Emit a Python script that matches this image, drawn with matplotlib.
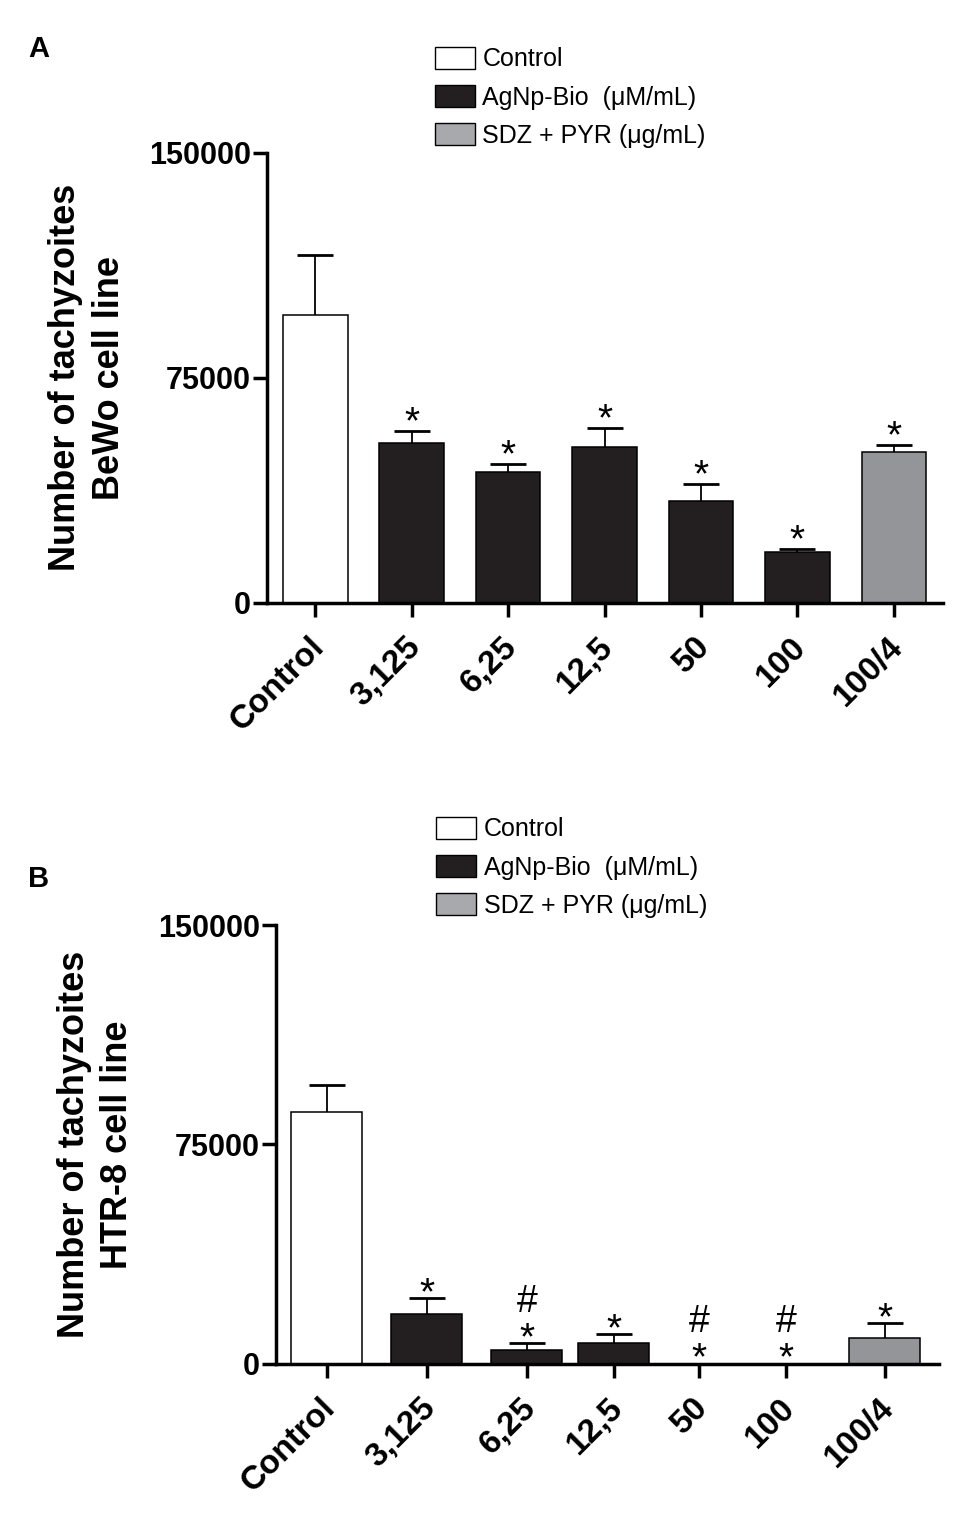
import numpy as np
import matplotlib
matplotlib.use("Agg")
import matplotlib.pyplot as plt
from matplotlib.patches import Patch
from matplotlib.transforms import ScaledTranslation

plt.rcParams['font.family'] = ['Liberation Sans', 'DejaVu Sans']

# Données
categories = ["Control", "3,125", "6,25", "12,5", "50", "100", "100/4"]

bewo_moyennes = [96000, 53100, 43500, 51800, 34000, 16800, 50100]
bewo_erreurs = [20100, 4200, 2700, 6300, 5400, 1000, 2300]
bewo_etoiles = [False, True, True, True, True, True, True]
bewo_dieses = [False, False, False, False, False, False, False]

htr8_moyennes = [86000, 16800, 4700, 7100, 0, 0, 8700]
htr8_erreurs = [9300, 5500, 2400, 2900, 0, 0, 5000]
htr8_etoiles = [False, True, True, True, True, True, True]
htr8_dieses = [False, False, True, False, True, True, False]

legende_labels = ["Control", "AgNp-Bio  (\u03bcM/mL)", "SDZ + PYR (\u03bcg/mL)"]

# Mise en page
couleur_noire = '#231f20'
couleur_grise = '#939598'
couleurs_barres = ['white'] + [couleur_noire] * 5 + [couleur_grise]
couleurs_legende = ['white', couleur_noire, '#a7a9ac']

pos_A = np.arange(7)
pos_B = np.array([0, 1.0, 2.0, 2.87, 3.72, 4.59, 5.58])

fig = plt.figure(figsize=(9.75, 15.17), dpi=100)


def trace_panneau(rect, positions, largeur, xlim, moyennes, erreurs, etoiles, dieses,
                  ylabel, label_x, decal_etoile, leg_xy):
    ax = fig.add_axes(rect)
    ax.bar(positions, moyennes, width=largeur, color=couleurs_barres,
           edgecolor='black', linewidth=1.1, zorder=2)

    # barres d'erreur (seulement vers le haut)
    for x, m, e in zip(positions, moyennes, erreurs):
        if e > 0:
            _, caps, _ = ax.errorbar(x, m, yerr=[[0], [e]], fmt='none', ecolor='black',
                                     elinewidth=1.3, capsize=13, capthick=2, zorder=1)
            caps[0].set_visible(False)

    # astérisques et dièses
    for x, m, e, s, d in zip(positions, moyennes, erreurs, etoiles, dieses):
        haut = m + e
        if s:
            ax.annotate("*", (x, haut), xytext=(0, decal_etoile), textcoords='offset points',
                        ha='center', va='baseline', fontsize=28, annotation_clip=False)
        if d:
            ax.annotate("#", (x, haut), xytext=(0, decal_etoile + 27), textcoords='offset points',
                        ha='center', va='baseline', fontsize=27, annotation_clip=False)

    ax.set_xlim(*xlim)
    ax.set_ylim(0, 150000)

    for cote in ['top', 'right']:
        ax.spines[cote].set_visible(False)
    for cote in ['left', 'bottom']:
        ax.spines[cote].set_linewidth(2.5)
    ax.tick_params(axis='both', length=10, width=2.5)
    ax.tick_params(axis='y', pad=1.5)
    ax.tick_params(axis='x', pad=4)

    ax.set_yticks([0, 75000, 150000])
    ax.set_yticklabels(["0", "75000", "150000"], fontsize=22, fontweight='bold')
    ax.set_xticks(positions)
    ax.set_xticklabels(categories, fontsize=24, fontweight='bold', rotation=45,
                       ha='right', va='center', rotation_mode='anchor')
    # on décale les étiquettes inclinées vers le bas
    decal = ScaledTranslation(3 / 72, -14.5 / 72, fig.dpi_scale_trans)
    for lab in ax.get_xticklabels():
        lab.set_transform(lab.get_transform() + decal)

    ax.set_ylabel(ylabel, fontsize=26, fontweight='bold', linespacing=1.3,
                  ha='center', va='center')
    ax.yaxis.set_label_coords(label_x, 0.5)

    poignees = [Patch(facecolor=c, edgecolor='black', linewidth=1.0) for c in couleurs_legende]
    fig.legend(poignees, legende_labels, loc='upper left', bbox_to_anchor=leg_xy,
               frameon=False, fontsize=18, handlelength=1.6, handleheight=0.95,
               handletextpad=0.3, labelspacing=0.55, borderpad=0, borderaxespad=0)
    return ax


axA = trace_panneau([267 / 975, 1 - 602.5 / 1517, 676 / 975, 449.5 / 1517],
                    pos_A, 0.67, (-0.50, 6.51),
                    bewo_moyennes, bewo_erreurs, bewo_etoiles, bewo_dieses,
                    "Number of tachyzoites\nBeWo cell line", -0.2655, -1.5,
                    (435 / 975, 1 - 47 / 1517))

axB = trace_panneau([276 / 975, 1 - 1363.5 / 1517, 662.6 / 975, 438.2 / 1517],
                    pos_B, 0.71, (-0.508, 6.118),
                    htr8_moyennes, htr8_erreurs, htr8_etoiles, htr8_dieses,
                    "Number of tachyzoites\nHTR-8 cell line", -0.272, -4.5,
                    (436 / 975, 1 - 817 / 1517))

fig.text(28 / 975, 1 - 57 / 1517, "A", fontsize=21, fontweight='bold', va='baseline')
fig.text(28 / 975, 1 - 887 / 1517, "B", fontsize=21, fontweight='bold', va='baseline')

fig.savefig("out.png", dpi=100)
